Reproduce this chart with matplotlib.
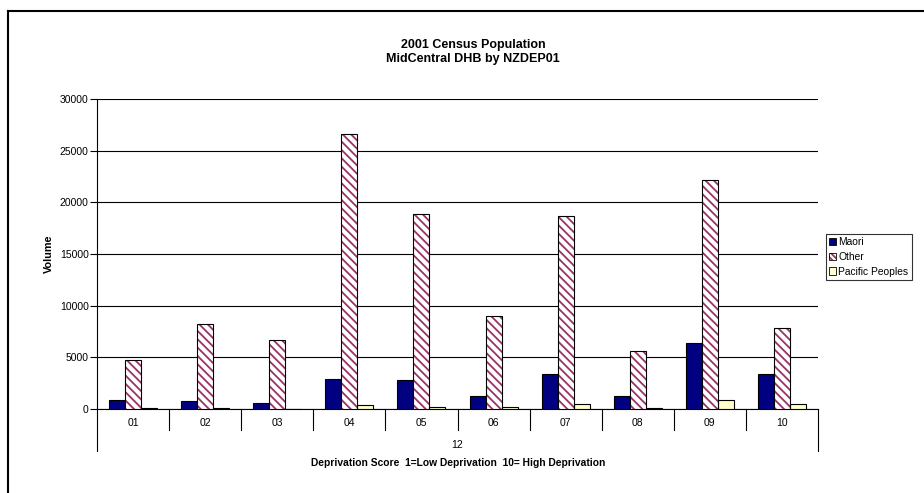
import matplotlib
matplotlib.use("Agg")
import matplotlib.pyplot as plt
from matplotlib.patches import Patch
from matplotlib.lines import Line2D
import numpy as np

categories = ["01", "02", "03", "04", "05", "06", "07", "08", "09", "10"]
maori = [900, 750, 550, 2950, 2800, 1250, 3400, 1250, 6350, 3350]
other = [4750, 8200, 6700, 26600, 18850, 9000, 18700, 5600, 22200, 7800]
pacific = [100, 80, 30, 350, 200, 200, 450, 80, 900, 450]
series_names = ["Maori", "Other", "Pacific Peoples"]
yticks = [0, 5000, 10000, 15000, 20000, 25000, 30000]

plt.rcParams['font.family'] = ['Liberation Sans', 'DejaVu Sans']
plt.rcParams['hatch.linewidth'] = 1.3

W, H = 924, 493
fig = plt.figure(figsize=(W / 100, H / 100), dpi=100)

L, R, T, B = 97, 818, 99, 409
ax = fig.add_axes([L / W, 1 - B / H, (R - L) / W, (B - T) / H])

x = np.arange(len(categories))
w = 0.222
navy = "#000080"
purple = "#993366"
yellow = "#FFFFCC"
hatch = "\\\\\\\\"

ax.bar(x - w, maori, w, color=navy, edgecolor="black", linewidth=0.8, zorder=3)
ax.bar(x, other, w, color="white", edgecolor=purple, hatch=hatch, linewidth=0, zorder=3)
ax.bar(x, other, w, color="none", edgecolor="black", linewidth=0.8, zorder=4)
ax.bar(x + w, pacific, w, color=yellow, edgecolor="black", linewidth=0.8, zorder=3)

ax.set_xlim(-0.5, len(categories) - 0.5)
ax.set_ylim(0, 30000)
ax.set_yticks(yticks)
ax.set_yticklabels([str(v) for v in yticks], fontsize=7.5)
ax.yaxis.grid(True, color="black", linewidth=0.8, zorder=0)
ax.tick_params(axis="y", length=5, width=0.8, pad=1)
ax.set_xticks([])
for s in ["top", "right"]:
    ax.spines[s].set_visible(False)
ax.spines["left"].set_linewidth(0.8)
ax.spines["bottom"].set_linewidth(0.8)

# category labels and separators below axis
trans = ax.get_xaxis_transform()
for i, c in enumerate(categories):
    ax.text(i, -14 / (B - T), c, transform=trans, ha="center", va="center", fontsize=7.5, clip_on=False)
for b in np.arange(-0.5, len(categories), 1.0):
    full = b == -0.5 or b == len(categories) - 0.5
    ln = (42 if full else 21) / (B - T)
    ax.add_line(Line2D([b, b], [0, -ln], transform=trans, color="black", linewidth=0.8, clip_on=False))
ax.text((len(categories) - 1) / 2, -36 / (B - T), "12", transform=trans, ha="center", va="center", fontsize=7.5, clip_on=False)

fig.text(458 / W, 1 - 463 / H, "Deprivation Score  1=Low Deprivation  10= High Deprivation",
         ha="center", va="center", fontsize=7.4, fontweight="bold")
fig.text(49 / W, 1 - 254 / H, "Volume", rotation=90, ha="center", va="center", fontsize=7.8, fontweight="bold")
fig.text(473 / W, 1 - 52 / H, "2001 Census Population\nMidCentral DHB by NZDEP01", ha="center", va="center",
         fontsize=9, fontweight="bold", linespacing=1.25)

handles = [Patch(facecolor=navy, edgecolor="black", linewidth=0.6),
           (Patch(facecolor="white", edgecolor=purple, hatch="\\\\\\\\\\\\", linewidth=0),
            Patch(facecolor="none", edgecolor="black", linewidth=0.6)),
           Patch(facecolor=yellow, edgecolor="black", linewidth=0.6)]
leg = fig.legend(handles, series_names, loc="center left", bbox_to_anchor=(826 / W, 1 - 257 / H),
                 fontsize=7.4, frameon=True, fancybox=False, edgecolor="black", borderpad=0.3,
                 handlelength=0.7, handleheight=0.7, handletextpad=0.2, labelspacing=0.45, borderaxespad=0)
leg.get_frame().set_linewidth(0.8)

# outer chart border (left and top only visible)
fig.add_artist(Line2D([8 / W, 8 / W], [0, 1 - 11 / H], transform=fig.transFigure, color="black", linewidth=1.5))
fig.add_artist(Line2D([8 / W, 1], [1 - 11 / H, 1 - 11 / H], transform=fig.transFigure, color="black", linewidth=1.5))

fig.savefig("out.png", dpi=100)
